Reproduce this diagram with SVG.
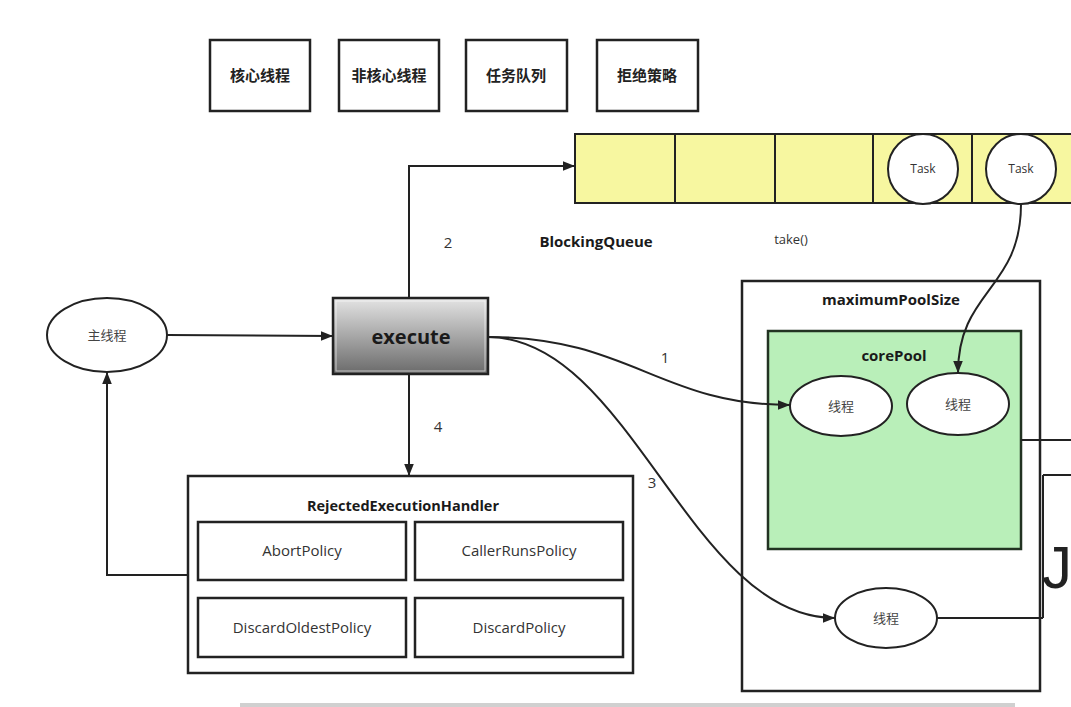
<svg xmlns="http://www.w3.org/2000/svg" width="1071" height="707" viewBox="0 0 1071 707">
<style>
.box{fill:#fff;stroke:#222;stroke-width:2.5}
.thin{fill:#fff;stroke:#222;stroke-width:2}
.cn{font-family:"Noto Sans CJK SC",sans-serif;fill:#444;text-anchor:middle}
.cnb{font-family:"Noto Sans CJK SC",sans-serif;font-weight:bold;fill:#222;text-anchor:middle;font-size:15px}
.lt{font-family:"Open Sans","Liberation Sans",sans-serif;fill:#333;text-anchor:middle}
.bd{font-family:"Open Sans","Liberation Sans",sans-serif;font-weight:bold;fill:#1a1a1a;text-anchor:middle}
.cell{fill:#f7f7a0;stroke:#222;stroke-width:2}
.line{fill:none;stroke:#222;stroke-width:2}
</style>
<defs>
<marker id="arr" viewBox="0 0 10 10" refX="10" refY="5" markerWidth="12" markerHeight="12" markerUnits="userSpaceOnUse" orient="auto">
<path d="M0,1 L10,5 L0,9 Z" fill="#222"/>
</marker>
<linearGradient id="g" x1="0" y1="0" x2="0" y2="1">
<stop offset="0" stop-color="#e4e4e4"/>
<stop offset="1" stop-color="#6a6a6a"/>
</linearGradient>
</defs>
<rect width="1071" height="707" fill="#fff"/>

<g id="legend">
<rect class="box" x="210" y="40" width="100" height="71"/>
<text class="cnb" x="260" y="81">核心线程</text>
<rect class="box" x="339" y="40" width="100" height="71"/>
<text class="cnb" x="389" y="81">非核心线程</text>
<rect class="box" x="466" y="40" width="101" height="71"/>
<text class="cnb" x="516" y="81">任务队列</text>
<rect class="box" x="597" y="40" width="101" height="71"/>
<text class="cnb" x="647" y="81">拒绝策略</text>
</g>

<g id="queue">
<rect class="cell" x="575" y="134" width="100" height="69"/>
<rect class="cell" x="675" y="134" width="100" height="69"/>
<rect class="cell" x="775" y="134" width="98" height="69"/>
<rect class="cell" x="873" y="134" width="99" height="69"/>
<rect class="cell" x="972" y="134" width="110" height="69"/>
<circle cx="923" cy="169" r="35" fill="#fff" stroke="#222" stroke-width="2"/>
<text class="lt" x="923" y="173" font-size="12">Task</text>
<circle cx="1021" cy="169" r="35" fill="#fff" stroke="#222" stroke-width="2"/>
<text class="lt" x="1021" y="173" font-size="12">Task</text>
<text class="bd" x="596" y="247" font-size="15">BlockingQueue</text>
<text class="lt" x="791" y="244" font-size="13">take()</text>
</g>

<g id="main">
<ellipse cx="107" cy="335" rx="60" ry="37" class="thin"/>
<text class="cn" x="107" y="340" font-size="13">主线程</text>
</g>

<g id="execute">
<rect x="333" y="298" width="155" height="76" fill="url(#g)" stroke="#222" stroke-width="2.5"/>
<rect x="336" y="301" width="149" height="70" fill="none" stroke="#fff" stroke-opacity="0.6" stroke-width="1"/>
<text class="bd" x="411" y="344" font-size="20" fill="#222">execute</text>
</g>

<g id="handler">
<rect class="box" x="188" y="476" width="445" height="197"/>
<text class="bd" x="403" y="511" font-size="14.5">RejectedExecutionHandler</text>
<rect class="box" x="198" y="522" width="208" height="58"/>
<text class="lt" x="302" y="556" font-size="15">AbortPolicy</text>
<rect class="box" x="415" y="522" width="208" height="58"/>
<text class="lt" x="519" y="556" font-size="15">CallerRunsPolicy</text>
<rect class="box" x="198" y="598" width="208" height="59"/>
<text class="lt" x="302" y="633" font-size="15">DiscardOldestPolicy</text>
<rect class="box" x="415" y="598" width="208" height="59"/>
<text class="lt" x="519" y="633" font-size="15">DiscardPolicy</text>
</g>

<g id="maxPool">
<rect class="box" x="742" y="281" width="298" height="410"/>
<text class="bd" x="891" y="305" font-size="15">maximumPoolSize</text>
</g>

<g id="corePool">
<rect x="768" y="331" width="253" height="218" fill="#b9efb9" stroke="#223322" stroke-width="2.5"/>
<text class="bd" x="894" y="361" font-size="15" fill="#1c2e1c">corePool</text>
<ellipse cx="841" cy="406" rx="51" ry="30" class="thin"/>
<text class="cn" x="841" y="411" font-size="13">线程</text>
<ellipse cx="958" cy="404" rx="51" ry="31" class="thin"/>
<text class="cn" x="958" y="409" font-size="13">线程</text>
</g>

<g id="extraThread">
<ellipse cx="886" cy="618" rx="51" ry="30" class="thin"/>
<text class="cn" x="886" y="623" font-size="13">线程</text>
</g>

<g id="connectors">
<path class="line" d="M167,335 L333,336" marker-end="url(#arr)"/>
<path class="line" d="M409,298 L409,166 L575,166" marker-end="url(#arr)"/>
<path class="line" d="M409,374 L409,476" marker-end="url(#arr)"/>
<path class="line" d="M188,575 L107,575 L107,372" marker-end="url(#arr)"/>
<path class="line" d="M488,337 C630,337 660,405 790,405" marker-end="url(#arr)"/>
<path class="line" d="M488,337 C630,337 690,618 835,618" marker-end="url(#arr)"/>
<path class="line" d="M1021,204 C1021,290 958,290 958,373" marker-end="url(#arr)"/>
<path class="line" d="M1021,440 L1071,440"/>
<path class="line" d="M1043,475 L1071,475 M1043,475 L1043,618"/>
<path class="line" d="M937,618 L1043,618"/>
</g>

<g id="labels">
<text class="lt" x="448" y="248" font-size="15">2</text>
<text class="lt" x="665" y="363" font-size="15">1</text>
<text class="lt" x="438" y="432" font-size="15">4</text>
<text class="lt" x="652" y="488" font-size="15">3</text>
<text x="1042" y="588" font-family="Liberation Sans,sans-serif" font-size="60" fill="#222">J</text>
</g>

<rect x="240" y="703" width="775" height="4" fill="#d0d0d0"/>
</svg>
